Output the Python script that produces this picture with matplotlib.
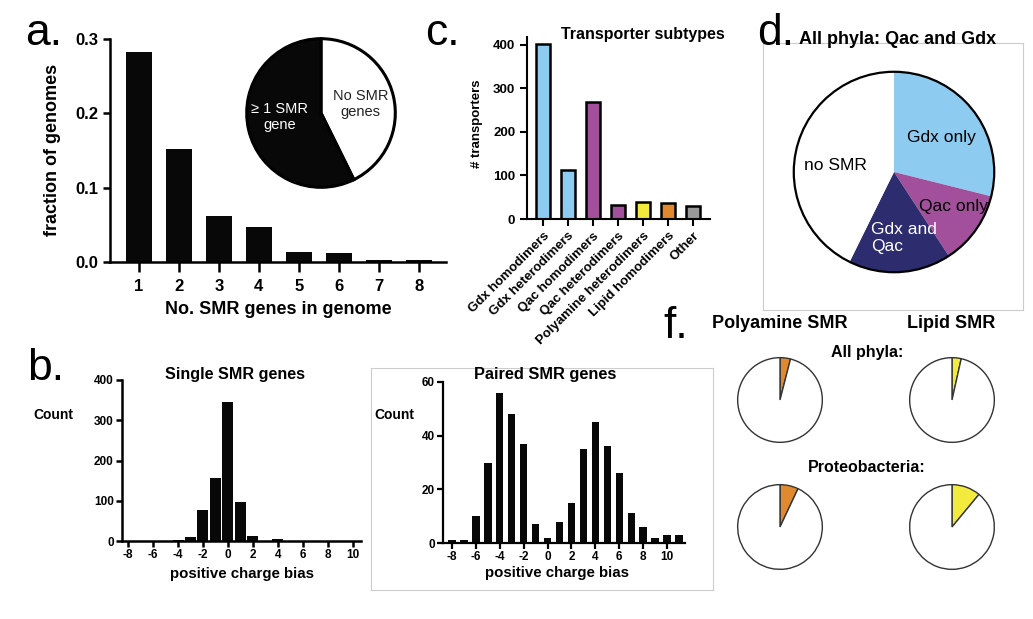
import numpy as np
import matplotlib
matplotlib.use("Agg")
import matplotlib.pyplot as plt

plt.rcParams['font.family'] = ['Liberation Sans', 'DejaVu Sans']
plt.rcParams['axes.unicode_minus'] = False

# ---- data ----
n_genes = [1, 2, 3, 4, 5, 6, 7, 8]
frac_genomes = [0.283, 0.152, 0.062, 0.047, 0.013, 0.012, 0.003, 0.003]
pie_a_labels = ['No SMR\ngenes', '\u2265 1 SMR\ngene']
pie_a_vals = [0.427, 0.573]

subtypes = ['Gdx homodimers', 'Gdx heterodimers', 'Qac homodimers', 'Qac heterodimers',
            'Polyamine heterodimers', 'Lipid homodimers', 'Other']
subtype_counts = [403, 113, 268, 32, 40, 37, 30]
subtype_colors = ['#8ecbf0', '#8ecbf0', '#a2509b', '#a2509b', '#f2ea3c', '#e0892e', '#9a9a9a']

pie_d_labels = ['Gdx only', 'Qac only', 'Gdx and\nQac', 'no SMR']
pie_d_vals = [0.289, 0.119, 0.165, 0.427]
pie_d_colors = ['#8ecbf0', '#a2509b', '#2d2c6f', 'white']

bias_single = list(range(-8, 11))
count_single = [0, 0, 0, 0, 2, 10, 76, 156, 345, 97, 12, 1, 5, 0, 0, 0, 0, 0, 0]
bias_paired = list(range(-8, 12))
count_paired = [1, 1, 10, 30, 56, 48, 37, 7, 2, 8, 15, 35, 45, 36, 26, 11, 6, 2, 3, 3]

polyamine_frac = [0.04, 0.07]   # all phyla, proteobacteria
lipid_frac = [0.035, 0.11]

W, H = 1033, 619
fig = plt.figure(figsize=(W / 100, H / 100), dpi=100)


def px_axes(x0, y0, x1, y1):
    return fig.add_axes([x0 / W, 1 - y1 / H, (x1 - x0) / W, (y1 - y0) / H])


def ftxt(x, y, s, **kw):
    fig.text(x / W, 1 - y / H, s, **kw)


def style_axes(ax, lw=1.8, fs=12):
    for s in ['top', 'right']:
        ax.spines[s].set_visible(False)
    for s in ['left', 'bottom']:
        ax.spines[s].set_linewidth(lw)
    ax.tick_params(width=lw, length=5, labelsize=fs)
    for t in ax.get_xticklabels() + ax.get_yticklabels():
        t.set_fontweight('bold')


def pie_axes(cx, cy, r, m=1.08):
    ax = px_axes(cx - r * m, cy - r * m, cx + r * m, cy + r * m)
    ax.set_xlim(-m, m)
    ax.set_ylim(-m, m)
    ax.axis('off')
    return ax


def grey_box(x0, y0, x1, y1):
    box = px_axes(x0, y0, x1, y1)
    box.set_xticks([])
    box.set_yticks([])
    for s in box.spines.values():
        s.set_color('#cccccc')
        s.set_linewidth(0.8)


# ---- panel a ----
ax = px_axes(110, 39, 446, 262)
ax.bar(n_genes, frac_genomes, width=0.65, color='#080808')
ax.set_xlim(0.28, 8.68)
ax.set_ylim(0, 0.3)
ax.set_xticks(n_genes)
ax.set_yticks([0.0, 0.1, 0.2, 0.3])
ax.yaxis.set_major_formatter(matplotlib.ticker.FormatStrFormatter('%.1f'))
style_axes(ax, lw=1.8, fs=12)
ax.tick_params(axis='x', length=7, pad=5)
ftxt(53, 150, 'fraction of genomes', rotation=90, ha='center', va='center',
     fontsize=13, fontweight='bold')
ftxt(278, 310, 'No. SMR genes in genome', ha='center', va='center',
     fontsize=13, fontweight='bold')
ftxt(25, 45, 'a.', fontsize=32)

pa = pie_axes(321, 113, 86)
pa.pie(pie_a_vals, colors=['white', '#080808'], startangle=90, counterclock=False,
       radius=1, wedgeprops=dict(edgecolor='black', linewidth=2.2))
pa.text(0.53, 0.12, pie_a_labels[0], ha='center', va='center', fontsize=10.5, color='#222')
pa.text(-0.56, -0.05, pie_a_labels[1], ha='center', va='center', fontsize=10.5, color='white')

# ---- panel c ----
ax = px_axes(527, 37, 710, 219)
xc = np.arange(len(subtypes))
ax.bar(xc, subtype_counts, width=0.56, color=subtype_colors, edgecolor='black', linewidth=1.8)
ax.set_xlim(-0.64, 6.68)
ax.set_ylim(0, 418)
ax.set_yticks([0, 100, 200, 300, 400])
ax.set_xticks(xc)
ax.set_xticklabels(subtypes, rotation=45, ha='right', rotation_mode='anchor')
style_axes(ax, lw=1.5, fs=9.5)
ax.tick_params(axis='x', length=5, pad=3)
ftxt(477, 124, '# transporters', rotation=90, ha='center', va='center',
     fontsize=9.5, fontweight='bold')
ftxt(643, 35, 'Transporter subtypes', ha='center', va='center', fontsize=11.5, fontweight='bold')
ftxt(425, 45, 'c.', fontsize=32)

# ---- panel d ----
grey_box(763, 43, 1023, 310)
ftxt(898, 40, 'All phyla: Qac and Gdx', ha='center', va='center', fontsize=13, fontweight='bold')
ftxt(757, 45, 'd.', fontsize=32)
pd_ax = pie_axes(894, 172, 116)
pd_ax.pie(pie_d_vals, colors=pie_d_colors, startangle=90, counterclock=False, radius=1,
          wedgeprops=dict(linewidth=0))
pd_ax.add_patch(plt.Circle((0, 0), 1, fill=False, edgecolor='black', linewidth=1.6))
pd_ax.text(0.47, 0.34, pie_d_labels[0], ha='center', va='center', fontsize=12.5)
pd_ax.text(0.59, -0.34, pie_d_labels[1], ha='center', va='center', fontsize=12.5)
pd_ax.text(-0.23, -0.66, pie_d_labels[2], ha='left', va='center', fontsize=12.5, color='white',
           linespacing=1.2)
pd_ax.text(-0.58, 0.06, pie_d_labels[3], ha='center', va='center', fontsize=12.5)

# ---- panel b, single ----
ax = px_axes(122, 380, 361, 541)
ax.bar(bias_single, count_single, width=0.88, color='#080808')
ax.set_xlim(-8.48, 10.64)
ax.set_ylim(0, 400)
ax.set_xticks(range(-8, 11, 2))
ax.set_yticks([0, 100, 200, 300, 400])
style_axes(ax, lw=1.8, fs=8.5)
ax.tick_params(length=4, pad=2)
ftxt(235, 374, 'Single SMR genes', ha='center', va='center', fontsize=11.6, fontweight='bold')
ftxt(53, 415, 'Count', ha='center', va='center', fontsize=10, fontweight='bold')
ftxt(242, 574, 'positive charge bias', ha='center', va='center', fontsize=10.8, fontweight='bold')
ftxt(27, 380, 'b.', fontsize=32)

# ---- panel b, paired ----
grey_box(371, 368, 713, 590)
ax = px_axes(443, 382, 685, 543)
ax.bar(bias_paired, count_paired, width=0.62, color='#080808')
ax.set_xlim(-8.75, 11.5)
ax.set_ylim(0, 60)
ax.set_xticks(range(-8, 11, 2))
ax.set_yticks([0, 20, 40, 60])
style_axes(ax, lw=1.6, fs=8.5)
ax.tick_params(length=4, pad=2)
ftxt(545, 374, 'Paired SMR genes', ha='center', va='center', fontsize=11.8, fontweight='bold')
ftxt(394, 415, 'Count', ha='center', va='center', fontsize=10, fontweight='bold')
ftxt(557, 573, 'positive charge bias', ha='center', va='center', fontsize=10.8, fontweight='bold')

# ---- panel f ----
ftxt(663, 338, 'f.', fontsize=32)
ftxt(780, 323, 'Polyamine SMR', ha='center', va='center', fontsize=13, fontweight='bold')
ftxt(951, 323, 'Lipid SMR', ha='center', va='center', fontsize=13, fontweight='bold')
ftxt(867, 352, 'All phyla:', ha='center', va='center', fontsize=11.5, fontweight='bold')
ftxt(867, 468, 'Proteobacteria:', ha='center', va='center', fontsize=11.5, fontweight='bold')
for i, cy in enumerate([400, 527]):
    for cx, frac, col in [(780, polyamine_frac[i], '#e0892e'), (952, lipid_frac[i], '#f2ea3c')]:
        pf = pie_axes(cx, cy, 49)
        pf.pie([frac, 1 - frac], colors=[col, 'white'], startangle=90, counterclock=False,
               radius=1, wedgeprops=dict(edgecolor='#333333', linewidth=1.0))

fig.savefig('out.png', dpi=100)
